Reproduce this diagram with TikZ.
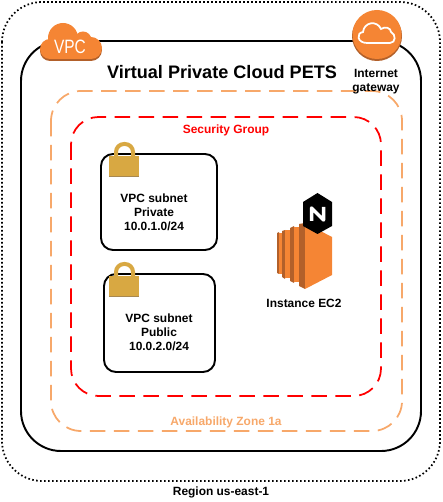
\documentclass[tikz,border=0pt]{standalone}
\usepackage{fontspec}
\setmainfont{Liberation Sans}
\usepackage{tikz}
\definecolor{awsorange}{RGB}{245,133,52}
\definecolor{awsdark}{RGB}{178,96,42}
\definecolor{azorange}{RGB}{247,168,106}
\definecolor{lockgold}{RGB}{216,168,66}
\definecolor{lockdark}{RGB}{168,136,80}
\tikzset{
  lbl/.style={font=\bfseries\fontsize{6.8}{8}\selectfont,align=center,inner sep=0pt},
  subnet/.style={draw=black,line width=1.1pt,rounded corners=0.24cm},
  azbox/.style={draw=azorange,line width=1pt,dash pattern=on 0.31cm off 0.17cm,rounded corners=0.6cm},
  sgbox/.style={draw=red,line width=1pt,dash pattern=on 0.31cm off 0.17cm,rounded corners=0.55cm}
}
\newcommand{\lockicon}[2]{
  \draw [lockgold,line width=0.08cm,rounded corners=0.16cm] (#1+7,#2+16)--(#1+7,#2+2)--(#1+24,#2+2)--(#1+24,#2+16);
  \fill [lockgold](#1,#2+14) rectangle (#1+30,#2+34);
  \draw [lockdark,line width=0.4pt](#1,#2+34.5)--(#1+30,#2+34.5);
}
\newcommand{\vpccloud}[2]{
  \fill [#1] (50,#2+49) circle (10);
  \fill [#1] (91,#2+48) circle (11);
  \fill [#1] (63,#2+38) circle (15);
  \fill [#1] (83,#2+40) circle (8.5);
  \fill [#1] (50,#2+42) rectangle (91,#2+59);
}
\begin{document}
\begin{tikzpicture}[x=0.02cm,y=-0.02cm]
\useasboundingbox (0,0) rectangle (442,502);
%boxes
\draw [black,line width=1pt,dash pattern=on 0.032cm off 0.048cm,rounded corners=0.8cm] (2,2) rectangle (440,481);
\draw [black,line width=1.1pt,rounded corners=0.8cm] (21,41) rectangle (421,451);
\draw [azbox] (51,91) rectangle (402,431);
\draw [sgbox] (71,117) rectangle (381,396);
\draw [subnet] (101,154) rectangle (217,250);
\draw [subnet] (104,274) rectangle (215,372);

%locks
\lockicon{109}{142}
\lockicon{109}{262}

%vpc cloud
\vpccloud{awsdark}{2}
\vpccloud{awsorange}{0}
\node [white,font=\fontsize{11}{12}\selectfont,xscale=0.8,inner sep=0pt] (vpclabel) at (70,47) {VPC};

%gateway
\fill [awsdark] (377,36) circle (25);
\fill [awsorange] (377,34.5) circle (24.5);
\draw [white,line width=1pt] (367,43)..controls (357,43) and (356,33) ..(363,32)
  ..controls (364,22) and (377,20) ..(381,29)
  ..controls (385,26) and (391,28) ..(391,32)
  ..controls (396,34) and (396,43) ..(390,43)--cycle;

%ec2
\fill [awsdark] (277,233)--(279,232)--(279,274)--(277,273)--cycle;
\fill [awsorange] (279,233) rectangle (282,274);
\fill [awsdark] (282,231)--(285,230)--(285,279)--(282,277)--cycle;
\fill [awsorange] (285,230) rectangle (290,278);
\fill [awsdark] (290,228)--(294,226)--(294,283)--(290,281)--cycle;
\fill [awsorange] (294,227) rectangle (299,282);
\fill [awsdark] (299,224)--(305,223)--(305,289)--(299,286)--cycle;
\fill [awsorange] (305,223)--(332,237)--(332,275)--(305,289)--cycle;

%nginx
\fill [black] (317.5,193)--(332,202)--(332,226)--(317.5,234)--(303,226)--(303,202)--cycle;
\draw [white,line width=2pt,line join=round] (311.5,221)--(311.5,208)--(323.5,220)--(323.5,207);

%labels
\node [lbl,font=\bfseries\fontsize{10.3}{12}\selectfont] (vpctitle) at (222,72) {Virtual Private Cloud PETS};
\node [lbl] (igwlabel) at (376,82) {Internet\\gateway};
\node [lbl,red] (sglabel) at (226,130) {Security Group};
\node [lbl] (privlabel) at (154,212) {VPC subnet\\Private\\10.0.1.0/24};
\node [lbl] (publabel) at (159,332) {VPC subnet\\Public\\10.0.2.0/24};
\node [lbl] (ec2label) at (304,303) {Instance EC2};
\node [lbl,azorange] (azlabel) at (226,422) {Availability Zone 1a};
\node [lbl] (regionlabel) at (221,492) {Region us-east-1};
\end{tikzpicture}
\end{document}
